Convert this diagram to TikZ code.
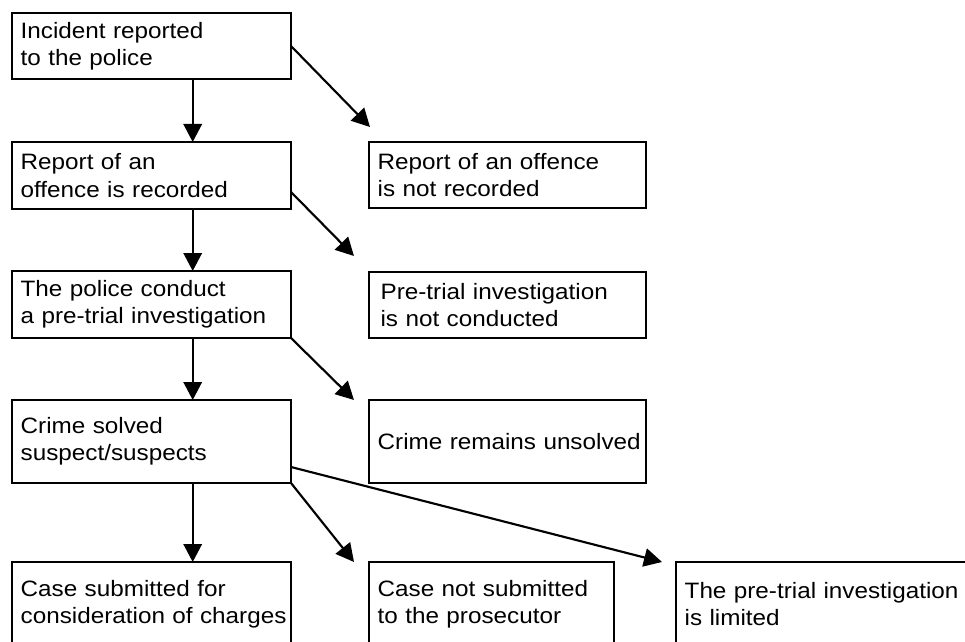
\documentclass[tikz,border=0pt]{standalone}
\usepackage{fontspec}
\setmainfont{Liberation Sans}[FakeStretch=1.09]
\usetikzlibrary{arrows.meta}
\begin{document}
\begin{tikzpicture}[x=0.75pt,y=-0.75pt,
  box/.style={draw, line width=1.4pt, rectangle, anchor=north west,
    inner xsep=6.5pt, inner ysep=0pt, outer sep=0pt, align=left,
    font=\fontsize{16.7pt}{20.5pt}\selectfont},
  arr/.style={line width=1.6pt, -{Triangle[length=13.5pt,width=13.8pt]}}]
\useasboundingbox (0,0) rectangle (965,642);
\fill[white] (0,0) rectangle (965,642);
\clip (0,0) rectangle (965,642);
% left column
\node[box, text width=196.25pt, minimum height=49.5pt] (A) at (12,13)
  {\mbox{Incident reported}\\\mbox{to the police}};
\node[box, text width=196.25pt, minimum height=50.25pt] (B) at (12,142)
  {\mbox{Report of an}\\\mbox{offence is recorded}};
\node[box, text width=196.25pt, minimum height=50.25pt] (C) at (12,271)
  {\mbox{The police conduct}\\\mbox{a pre-trial investigation}};
\node[box, text width=196.25pt, minimum height=62.25pt] (D) at (12,400)
  {\mbox{Crime solved}\\\mbox{suspect/suspects}};
\node[box, text width=196.25pt, minimum height=63pt] (E) at (12,562)
  {\mbox{Case submitted for}\\\mbox{consideration of charges}};
% right column
\node[box, text width=194.75pt, minimum height=49.5pt] (F) at (369,142)
  {\mbox{Report of an offence}\\\mbox{is not recorded}};
\node[box, text width=194.75pt, minimum height=49.5pt] (G) at (369,272)
  {\hspace*{2.2pt}\mbox{Pre-trial investigation}\\\hspace*{2.2pt}\mbox{is not conducted}};
\node[box, text width=194.75pt, minimum height=62.25pt] (H) at (369,400)
  {\mbox{Crime remains unsolved}};
\node[box, text width=170.75pt, minimum height=63pt] (I) at (369,562)
  {\mbox{Case not submitted}\\\mbox{to the prosecutor}};
\node[box, text width=212pt, minimum height=63pt] (J) at (676,562)
  {\mbox{The pre-trial investigation}\\\mbox{is limited}};
% arrows
\coordinate (col) at (192.7,0);
\draw[arr] (A.south -| col) -- (B.north -| col);
\draw[arr] (B.south -| col) -- (C.north -| col);
\draw[arr] (C.south -| col) -- (D.north -| col);
\draw[arr] (D.south -| col) -- (E.north -| col);
\draw[arr] (A.east) -- ([xshift=0.75pt,yshift=11.25pt]F.north west);
\draw[arr] ([yshift=12.75pt]B.south east) -- ([xshift=-11.25pt,yshift=12pt]G.north west);
\draw[arr] (C.south east) -- ([xshift=-11.25pt]H.north west);
\draw[arr] (D.south east) -- ([xshift=-11.25pt]I.north west);
\draw[arr] ([yshift=12pt]D.south east) -- ([xshift=-10.5pt]J.north west);
\end{tikzpicture}
\end{document}
